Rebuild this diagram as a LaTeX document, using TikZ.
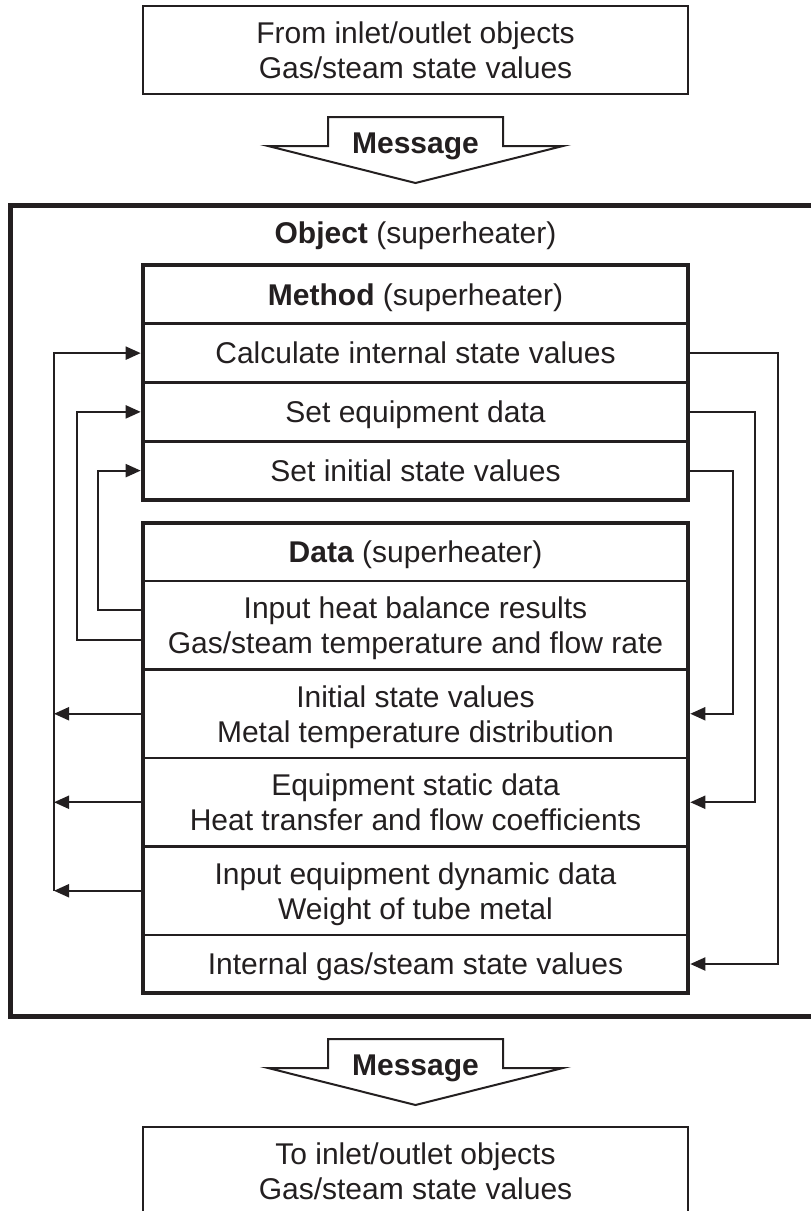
\documentclass[tikz,border=0pt]{standalone}
\usepackage{fontspec}
\setmainfont{Liberation Sans}
\usetikzlibrary{arrows.meta,calc}
\definecolor{ink}{HTML}{231F20}
% strut that centres the cap height of each line in its slot
\newcommand\rs{\rule[-6.7pt]{0pt}{35pt}}
\begin{document}
\begin{tikzpicture}[x=1pt,y=-1pt,
  every node/.style={font=\fontsize{30}{35}\selectfont, text=ink, inner sep=0pt, outer sep=0pt},
  row/.style={draw=ink, line width=2.7pt, minimum width=545pt, align=center},
  endbox/.style={draw=ink, line width=2.8pt, minimum width=545pt, minimum height=88pt, align=center},
  frame/.style={draw=ink, line width=4.7pt},
  conn/.style={draw=ink, line width=2pt},
  tip/.style={-{Triangle[length=15pt,width=13pt]}},
  tipin/.style={tip, shorten >=2.3pt},
  msgline/.style={draw=ink, line width=2pt, line join=miter},
  msgtext/.style={font=\fontsize{30}{35}\selectfont\bfseries}
]
\useasboundingbox (0,0) rectangle (811,1211);

% incoming message
\node[endbox] (src) at (415.5,50) {\rs From inlet/outlet objects\\\rs Gas/steam state values};
\node[msgtext] (msg1) at (415.5,143) {\rs Message};
\draw[msgline] ($(msg1)+(-87.5,-26)$) -- ++(175,0) -- ++(0,29) -- ++(60,0)
  -- ($(msg1)+(0,40)$) -- ($(msg1)+(-147.5,3)$) -- ++(60,0) -- cycle;

% object frame
\node[draw=ink, line width=5pt, minimum width=811pt, minimum height=811pt] (obj) at (415.5,610.5) {};
\node (objt) at (415.5,232.5) {\rs\textbf{Object} (superheater)};

% methods
\node[row, minimum height=58.75pt] (m0) at (415.5,294.375) {\rs\textbf{Method} (superheater)};
\node[row, minimum height=58.75pt] (m1) at (415.5,353.125) {\rs Calculate internal state values};
\node[row, minimum height=58.75pt] (m2) at (415.5,411.875) {\rs Set equipment data};
\node[row, minimum height=58.75pt] (m3) at (415.5,470.625) {\rs Set initial state values};
\draw[frame] (m0.north west) rectangle (m3.south east);

% data
\node[row, minimum height=58pt]   (d0) at (415.5,552)    {\rs\textbf{Data} (superheater)};
\node[row, minimum height=88.5pt] (d1) at (415.5,625.25) {\rs Input heat balance results\\\rs Gas/steam temperature and flow rate};
\node[row, minimum height=88.5pt] (d2) at (415.5,713.75) {\rs Initial state values\\\rs Metal temperature distribution};
\node[row, minimum height=88.5pt] (d3) at (415.5,802.25) {\rs Equipment static data\\\rs Heat transfer and flow coefficients};
\node[row, minimum height=88.5pt] (d4) at (415.5,890.75) {\rs Input equipment dynamic data\\\rs Weight of tube metal};
\node[row, minimum height=58pt]   (d5) at (415.5,964)    {\rs Internal gas/steam state values};
\draw[frame] (d0.north west) rectangle (d5.south east);

% left-hand links
\coordinate (lb) at ($(d4.west)+(-89,0)$);
\draw[conn,tipin] ([yshift=15pt]d1.west) -- ++(-45,0) |- (m3.west);
\draw[conn,tipin] ([yshift=-15pt]d1.west) -- ++(-66,0) |- (m2.west);
\draw[conn,tipin] (lb) |- (m1.west);
\draw[conn,tip] (d2.west) -- (d2.west -| lb);
\draw[conn,tip] (d3.west) -- (d3.west -| lb);
\draw[conn,tip] (d4.west) -- (lb);

% right-hand links
\draw[conn,tipin] (m3.east) -- ++(45,0) |- (d2.east);
\draw[conn,tipin] (m2.east) -- ++(67,0) |- (d3.east);
\draw[conn,tipin] (m1.east) -- ++(90,0) |- (d5.east);

% outgoing message
\node[msgtext] (msg2) at (415.5,1065) {\rs Message};
\draw[msgline] ($(msg2)+(-87.5,-26)$) -- ++(175,0) -- ++(0,29) -- ++(60,0)
  -- ($(msg2)+(0,40)$) -- ($(msg2)+(-147.5,3)$) -- ++(60,0) -- cycle;
\node[endbox] (dst) at (415.5,1171) {\rs To inlet/outlet objects\\\rs Gas/steam state values};
\end{tikzpicture}
\end{document}
